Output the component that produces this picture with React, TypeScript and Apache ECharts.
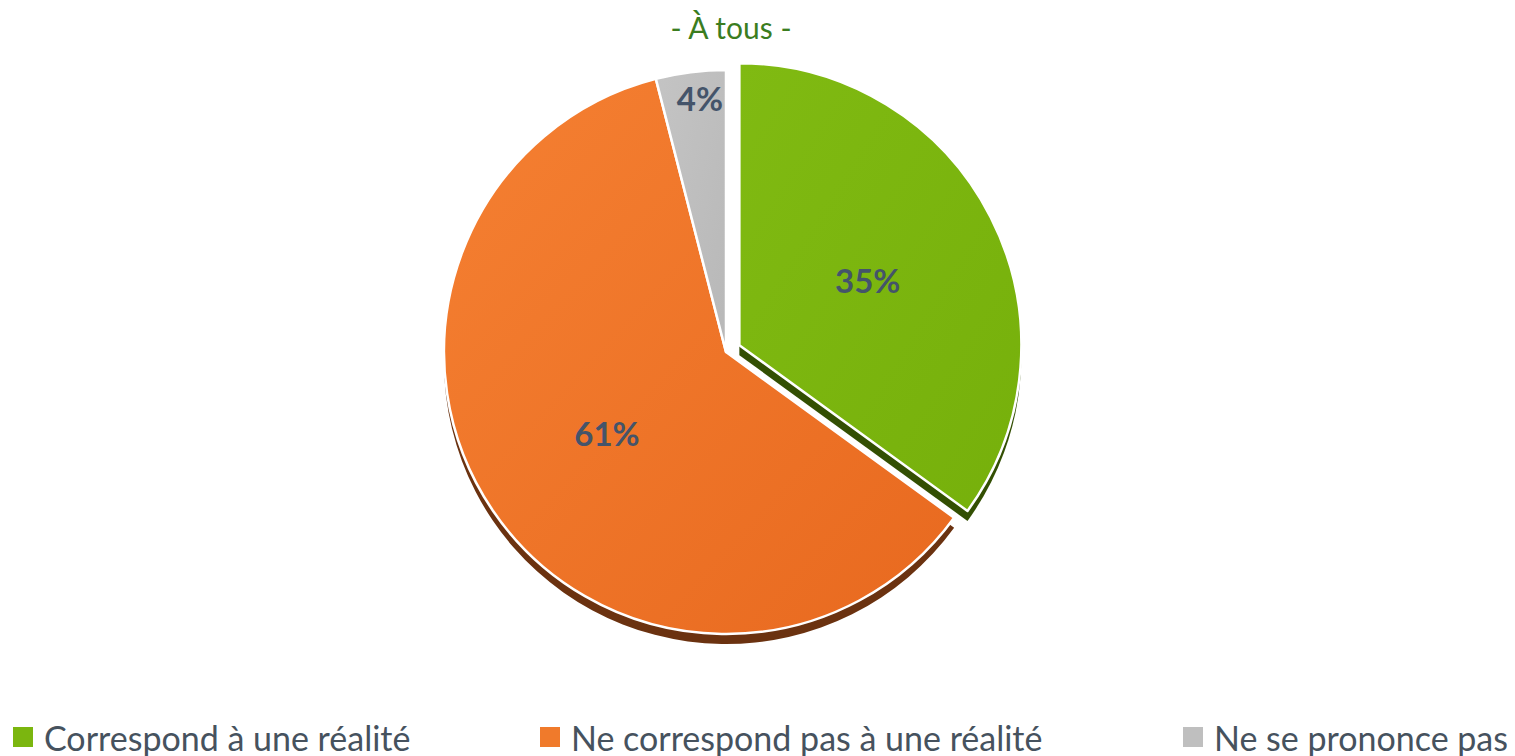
import React, { useEffect, useRef } from "react";
import * as echarts from "echarts";

const categories = ["Correspond à une réalité", "Ne correspond pas à une réalité", "Ne se prononce pas"];
const values = [35, 61, 4];
const exploded = [true, false, false];
const topColors = ["#7bb60f", "#f07a2b", "#bfbfbf"];
const topColorsLight = ["#80ba12", "#f58032", "#c4c4c4"];
const topColorsDark = ["#76b00b", "#e8691f", "#b8b8b8"];
const sideColors = ["#334f03", "#6b3210", "#4e4e4e"];
const titleText = "- À tous -";

const FONT = "Lato, 'Open Sans', sans-serif";

export default function App() {
  const ref = useRef<HTMLDivElement>(null);
  useEffect(() => {
    if (!ref.current) return;
    const chart = echarts.init(ref.current, undefined, { renderer: "svg" });
    const cx = 726;
    const cy = 352;
    const R = 282;
    const topData = categories.map((name, i) => ({
      name,
      value: values[i],
      selected: exploded[i],
      itemStyle: {
        color: new echarts.graphic.LinearGradient(0, 0, 1, 1, [
          { offset: 0, color: topColorsLight[i] },
          { offset: 1, color: topColorsDark[i] },
        ]),
      },
    }));
    const sideData = categories.map((name, i) => ({
      name,
      value: values[i],
      selected: exploded[i],
      itemStyle: { color: sideColors[i] },
    }));
    const legendLefts = [11, 538, 1181];
    chart.setOption({
      animation: false,
      graphic: [
        {
          type: "text",
          x: 731,
          y: 12,
          style: {
            text: titleText,
            fill: "#3b7d1f",
            fontSize: 30,
            fontFamily: FONT,
            align: "center",
            textAlign: "center",
          },
        },
      ],
      legend: categories.map((name, i) => ({
        data: [{ name, itemStyle: { color: topColors[i] } }],
        left: legendLefts[i],
        top: 720,
        padding: 0,
        icon: "rect",
        itemWidth: 22,
        itemHeight: 22,
        selectedMode: false,
        textStyle: {
          fontSize: 34,
          lineHeight: 34,
          color: "#46525e",
          fontFamily: FONT,
          padding: [0, 0, 0, 5],
        },
      })),
      series: [
        {
          type: "pie",
          z: 3,
          center: [cx, cy],
          radius: R,
          startAngle: 90,
          clockwise: true,
          selectedMode: "multiple",
          selectedOffset: 15,
          data: topData,
          itemStyle: { borderColor: "#ffffff", borderWidth: 2.5 },
          emphasis: { disabled: true, scale: false },
          label: {
            show: true,
            position: "inside",
            formatter: "{c}%",
            fontSize: 33,
            fontWeight: "bold",
            color: "#44546a",
            fontFamily: FONT,
          },
          labelLine: { show: false },
          labelLayout: (params: any) => (params.dataIndex === 2 ? { dx: -8, dy: -111 } : {}),
        },
        {
          type: "pie",
          z: 2,
          silent: true,
          center: [cx, cy + 10],
          radius: R,
          startAngle: 90,
          clockwise: true,
          selectedMode: "multiple",
          selectedOffset: 15,
          data: sideData,
          itemStyle: { borderWidth: 0 },
          emphasis: { disabled: true, scale: false },
          label: { show: false },
          labelLine: { show: false },
          tooltip: { show: false },
        },
      ],
    });
    return () => chart.dispose();
  }, []);
  return (
    <div
      ref={ref}
      style={{ position: "absolute", left: 0, top: 0, width: 1515, height: 756, background: "#ffffff" }}
    />
  );
}
